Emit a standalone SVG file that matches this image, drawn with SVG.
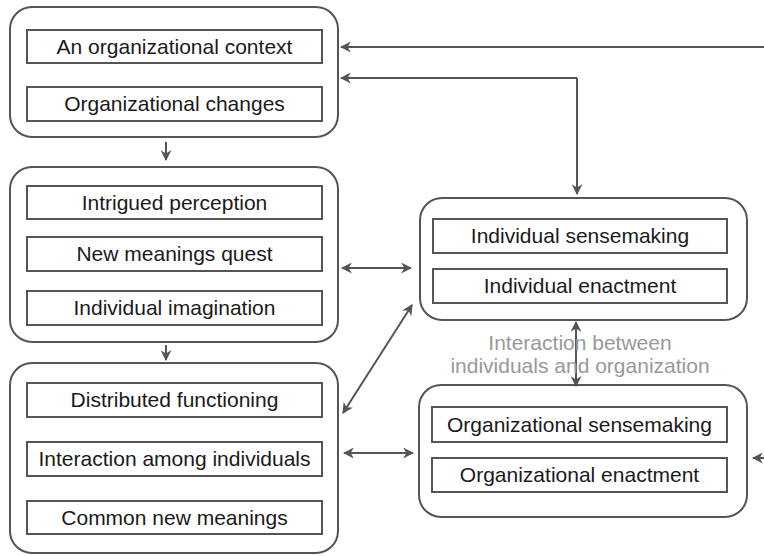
<svg xmlns="http://www.w3.org/2000/svg" width="764" height="556" viewBox="0 0 764 556">
<style>
.outer{fill:#fff;stroke:#555;stroke-width:2}
.inner{fill:#fff;stroke:#555;stroke-width:2}
.t{font-family:"Liberation Sans",Arial,sans-serif;font-size:21px;fill:#1a1a1a;text-anchor:middle}
.lbl{font-family:"Liberation Sans",Arial,sans-serif;font-size:21px;fill:#999;text-anchor:middle}
.c{fill:none;stroke:#555;stroke-width:2}
</style>
<defs>
<marker id="ah" viewBox="0 0 10 10" refX="9" refY="5" markerWidth="5.5" markerHeight="5.5" orient="auto-start-reverse" markerUnits="strokeWidth">
<path d="M0,0 L10,5 L0,10 L3,5 Z" fill="#555"/>
</marker>
</defs>
<rect width="764" height="556" fill="#fff"/>
<g id="context">
<rect class="outer" x="10" y="7" width="328" height="130" rx="22"/>
<rect class="inner" x="27" y="30" width="295" height="33"/>
<text class="t" x="174.5" y="54">An organizational context</text>
<rect class="inner" x="27" y="87" width="295" height="34"/>
<text class="t" x="174.5" y="111">Organizational changes</text>
</g>
<g id="individual-left">
<rect class="outer" x="10" y="167" width="328" height="175" rx="22"/>
<rect class="inner" x="27" y="186" width="295" height="33"/>
<text class="t" x="174.5" y="210">Intrigued perception</text>
<rect class="inner" x="27" y="237" width="295" height="34"/>
<text class="t" x="174.5" y="261">New meanings quest</text>
<rect class="inner" x="27" y="291" width="295" height="34"/>
<text class="t" x="174.5" y="315">Individual imagination</text>
</g>
<g id="collective-left">
<rect class="outer" x="10" y="363" width="328" height="190" rx="22"/>
<rect class="inner" x="27" y="383" width="295" height="34"/>
<text class="t" x="174.5" y="407">Distributed functioning</text>
<rect class="inner" x="27" y="442" width="295" height="34"/>
<text class="t" x="174.5" y="466">Interaction among individuals</text>
<rect class="inner" x="27" y="501" width="295" height="33"/>
<text class="t" x="174.5" y="525">Common new meanings</text>
</g>
<g id="individual-right">
<rect class="outer" x="420" y="198" width="327" height="122" rx="22"/>
<rect class="inner" x="433" y="219" width="294" height="34"/>
<text class="t" x="580" y="243">Individual sensemaking</text>
<rect class="inner" x="433" y="269" width="294" height="34"/>
<text class="t" x="580" y="293">Individual enactment</text>
</g>
<g id="organizational-right">
<rect class="outer" x="419" y="385" width="328" height="132" rx="22"/>
<rect class="inner" x="432" y="407" width="295" height="35"/>
<text class="t" x="579.5" y="432">Organizational sensemaking</text>
<rect class="inner" x="432" y="458" width="295" height="34"/>
<text class="t" x="579.5" y="482">Organizational enactment</text>
</g>
<g id="connectors">
<path class="c" d="M764,47 H341" marker-end="url(#ah)"/>
<path class="c" d="M577,78 V194" marker-end="url(#ah)"/>
<path class="c" d="M577,78 H341" marker-end="url(#ah)"/>
<path class="c" d="M166,142 V160" marker-end="url(#ah)"/>
<path class="c" d="M166,345 V360" marker-end="url(#ah)"/>
<path class="c" d="M342,268 H411" marker-start="url(#ah)" marker-end="url(#ah)"/>
<path class="c" d="M343,413 L412,305" marker-start="url(#ah)" marker-end="url(#ah)"/>
<path class="c" d="M344,453 H413" marker-start="url(#ah)" marker-end="url(#ah)"/>
<path class="c" d="M576,322 V386" marker-start="url(#ah)" marker-end="url(#ah)"/>
<path class="c" d="M764,458 H753" marker-end="url(#ah)"/>
</g>
<g id="label">
<text class="lbl" x="580" y="350">Interaction between</text>
<text class="lbl" x="580" y="373">individuals and organization</text>
</g>
</svg>
